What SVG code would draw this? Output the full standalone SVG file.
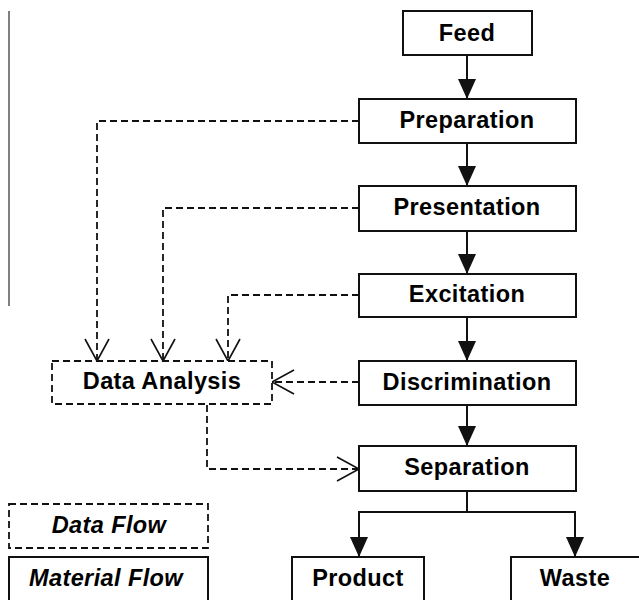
<svg xmlns="http://www.w3.org/2000/svg" width="639" height="600" viewBox="0 0 639 600">
  <style>
    .box { fill: #fff; stroke: #111; stroke-width: 2; }
    .dbox { fill: #fff; stroke: #111; stroke-width: 1.8; stroke-dasharray: 7 4; }
    .label { font-family: "Liberation Sans", Arial, sans-serif; font-weight: bold; font-size: 23.5px; letter-spacing: 0.4px; fill: #000; text-anchor: middle; }
    .legend { font-style: italic; }
    .mat { fill: none; stroke: #111; stroke-width: 2; }
    .data { fill: none; stroke: #111; stroke-width: 1.8; stroke-dasharray: 7 4; }
  </style>
  <defs>
    <marker id="solid" markerUnits="userSpaceOnUse" markerWidth="20" markerHeight="18" refX="20" refY="9" orient="auto" overflow="visible">
      <path d="M0,0 L20,9 L0,18 Z" fill="#111"/>
    </marker>
    <marker id="open" markerUnits="userSpaceOnUse" markerWidth="22" markerHeight="24" refX="22" refY="12" orient="auto" overflow="visible">
      <path d="M0,0 L22,12 L0,24" fill="none" stroke="#111" stroke-width="1.6" stroke-dasharray="none"/>
    </marker>
  </defs>

  <rect x="0" y="0" width="639" height="600" fill="#fff"/>
  <!-- margin rule -->
  <rect x="8" y="11" width="2" height="295" fill="#808080"/>

  <g id="connectors">
    <path class="mat" d="M467,55 V99" marker-end="url(#solid)"/>
    <path class="mat" d="M467,143 V186" marker-end="url(#solid)"/>
    <path class="mat" d="M467,231 V274" marker-end="url(#solid)"/>
    <path class="mat" d="M467,317 V361" marker-end="url(#solid)"/>
    <path class="mat" d="M467,405 V446" marker-end="url(#solid)"/>
    <path class="mat" d="M467,491 V512 H359 V557" marker-end="url(#solid)"/>
    <path class="mat" d="M467,512 H575 V557" marker-end="url(#solid)"/>
    <path class="data" d="M359,121 H97 V361" marker-end="url(#open)"/>
    <path class="data" d="M359,208 H163 V361" marker-end="url(#open)"/>
    <path class="data" d="M359,295 H228 V361" marker-end="url(#open)"/>
    <path class="data" d="M359,382 H272" marker-end="url(#open)"/>
    <path class="data" d="M207,405 V469 H359" marker-end="url(#open)"/>
  </g>

  <g id="feed">
    <rect class="box" x="403" y="11" width="129" height="44"/>
    <text class="label" x="467" y="41">Feed</text>
  </g>
  <g id="preparation">
    <rect class="box" x="359" y="99" width="217" height="44"/>
    <text class="label" x="467" y="128">Preparation</text>
  </g>
  <g id="presentation">
    <rect class="box" x="359" y="186" width="217" height="45"/>
    <text class="label" x="467" y="215">Presentation</text>
  </g>
  <g id="excitation">
    <rect class="box" x="359" y="274" width="217" height="43"/>
    <text class="label" x="467" y="302">Excitation</text>
  </g>
  <g id="discrimination">
    <rect class="box" x="359" y="361" width="217" height="44"/>
    <text class="label" x="467" y="390">Discrimination</text>
  </g>
  <g id="separation">
    <rect class="box" x="359" y="446" width="217" height="45"/>
    <text class="label" x="467" y="475">Separation</text>
  </g>
  <g id="product">
    <rect class="box" x="292" y="557" width="132" height="44"/>
    <text class="label" x="358" y="586">Product</text>
  </g>
  <g id="waste">
    <rect class="box" x="511" y="557" width="130" height="44"/>
    <text class="label" x="575" y="586">Waste</text>
  </g>
  <g id="data-analysis">
    <rect class="dbox" x="52" y="361" width="220" height="43"/>
    <text class="label" x="162" y="389">Data Analysis</text>
  </g>

  <g id="legend-data-flow">
    <rect class="dbox" x="9" y="504" width="199" height="44"/>
    <text class="label legend" x="109" y="533">Data Flow</text>
  </g>
  <g id="legend-material-flow">
    <rect class="box" x="9" y="557" width="199" height="44"/>
    <text class="label legend" x="106" y="586">Material Flow</text>
  </g>
</svg>
